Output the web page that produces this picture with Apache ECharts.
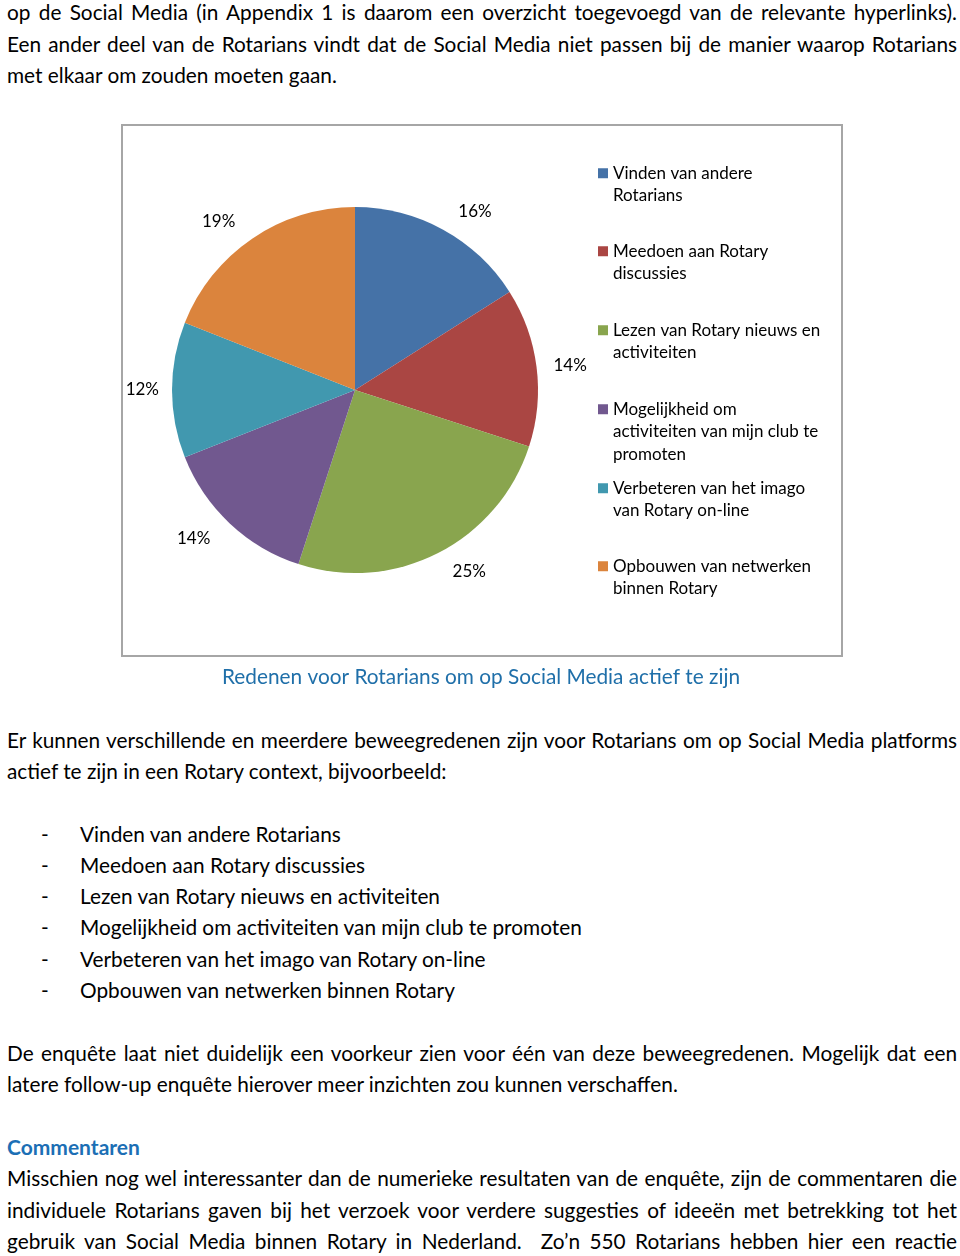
<!DOCTYPE html>
<html>
<head>
<meta charset="utf-8">
<script src="https://cdn.jsdelivr.net/npm/echarts@6/dist/echarts.min.js"></script>
<style>
  html, body { margin: 0; padding: 0; background: #fff; }
  body { width: 960px; height: 1256px; position: relative; overflow: hidden;
         font-family: Lato, "Noto Sans", sans-serif; color: #000; }
  .ln { position: absolute; left: 7px; width: 950px; font-size: 20.8px; line-height: 31px; white-space: normal; }
  .j { text-align: justify; text-align-last: justify; }
  .li { position: absolute; font-size: 20.8px; line-height: 31px; }
  .dash { left: 41px; }
  .lt { left: 80px; }
  .head { position: absolute; left: 7px; font-size: 21px; line-height: 31px; font-weight: bold; color: #1c6fb5; }
  #chart { position: absolute; left: 0; top: 110px; width: 960px; height: 600px; }
</style>
</head>
<body>
<div class="ln j" style="top:-4px">op de Social Media (in Appendix 1 is daarom een overzicht toegevoegd van de relevante hyperlinks).</div>
<div class="ln j" style="top:28px">Een ander deel van de Rotarians vindt dat de Social Media niet passen bij de manier waarop Rotarians</div>
<div class="ln" style="top:59px">met elkaar om zouden moeten gaan.</div>

<div id="chart"></div>

<div class="ln j" style="top:724px">Er kunnen verschillende en meerdere beweegredenen zijn voor Rotarians om op Social Media platforms</div>
<div class="ln" style="top:755px">actief te zijn in een Rotary context, bijvoorbeeld:</div>

<div class="li dash" style="top:818px">-</div><div class="li lt" style="top:818px">Vinden van andere Rotarians</div>
<div class="li dash" style="top:849px">-</div><div class="li lt" style="top:849px">Meedoen aan Rotary discussies</div>
<div class="li dash" style="top:880px">-</div><div class="li lt" style="top:880px">Lezen van Rotary nieuws en activiteiten</div>
<div class="li dash" style="top:911px">-</div><div class="li lt" style="top:911px">Mogelijkheid om activiteiten van mijn club te promoten</div>
<div class="li dash" style="top:943px">-</div><div class="li lt" style="top:943px">Verbeteren van het imago van Rotary on-line</div>
<div class="li dash" style="top:974px">-</div><div class="li lt" style="top:974px">Opbouwen van netwerken binnen Rotary</div>

<div class="ln j" style="top:1037px">De enquête laat niet duidelijk een voorkeur zien voor één van deze beweegredenen. Mogelijk dat een</div>
<div class="ln" style="top:1068px">latere follow-up enquête hierover meer inzichten zou kunnen verschaffen.</div>

<div class="head" style="top:1131px">Commentaren</div>
<div class="ln j" style="top:1162px">Misschien nog wel interessanter dan de numerieke resultaten van de enquête, zijn de commentaren die</div>
<div class="ln j" style="top:1194px">individuele Rotarians gaven bij het verzoek voor verdere suggesties of ideeën met betrekking tot het</div>
<div class="ln j" style="top:1225px">gebruik van Social Media binnen Rotary in Nederland.&nbsp; Zo’n 550 Rotarians hebben hier een reactie</div>

<script>
// ---- chart data ----
const categories = [
  'Vinden van andere Rotarians',
  'Meedoen aan Rotary discussies',
  'Lezen van Rotary nieuws en activiteiten',
  'Mogelijkheid om activiteiten van mijn club te promoten',
  'Verbeteren van het imago van Rotary on-line',
  'Opbouwen van netwerken binnen Rotary'
];
const legendLines = [
  ['Vinden van andere', 'Rotarians'],
  ['Meedoen aan Rotary', 'discussies'],
  ['Lezen van Rotary nieuws en', 'activiteiten'],
  ['Mogelijkheid om', 'activiteiten van mijn club te', 'promoten'],
  ['Verbeteren van het imago', 'van Rotary on-line'],
  ['Opbouwen van netwerken', 'binnen Rotary']
];
const percentages = [16, 14, 25, 14, 12, 19];
const colors = ['#4572A7', '#AA4643', '#89A54E', '#71588F', '#4198AF', '#DB843D'];
const captionText = 'Redenen voor Rotarians om op Social Media actief te zijn';

// ---- layout (styles only) ----
const LH = 22.5;
const legendFirstLineY = [66, 144, 223, 302, 381, 459];
const labelLineLengths = [21, 12, 21, 21, 8, 21];

const chart = echarts.init(document.getElementById('chart'), null, { renderer: 'canvas' });

const legends = categories.map((name, i) => {
  const lines = legendLines[i];
  return {
    show: true,
    orient: 'vertical',
    left: 598,
    top: legendFirstLineY[i] - LH / 2,
    padding: 0,
    itemWidth: 10,
    itemHeight: 10,
    itemGap: 0,
    icon: 'rect',
    selectedMode: false,
    data: [name],
    formatter: () => '{t|' + lines.join('\n') + '}',
    textStyle: {
      padding: [(lines.length - 1) * LH, 0, 0, 0],
      rich: {
        t: { fontFamily: 'Lato', fontSize: 17, lineHeight: LH, color: '#000' }
      }
    }
  };
});

chart.setOption({
  animation: false,
  color: colors,
  title: {
    text: captionText,
    left: 481,
    textAlign: 'center',
    top: 557,
    padding: 0,
    textStyle: { fontFamily: 'Lato', fontSize: 20.8, fontWeight: 'normal', color: '#1f6fa9' }
  },
  legend: legends,
  graphic: [{
    type: 'rect',
    shape: { x: 122, y: 15, width: 720, height: 531 },
    style: { fill: 'none', stroke: '#a6a6a6', lineWidth: 2 },
    silent: true,
    z: -1
  }],
  series: [{
    type: 'pie',
    center: [355, 280],
    radius: 183,
    startAngle: 90,
    clockwise: true,
    avoidLabelOverlap: false,
    itemStyle: { borderWidth: 0 },
    label: {
      show: true,
      position: 'outside',
      formatter: '{c}%',
      fontFamily: 'Lato',
      fontSize: 17,
      color: '#000',
      distanceToLabelLine: 5
    },
    labelLine: { show: false, length: 21, length2: 0 },
    emphasis: { disabled: true },
    data: categories.map((name, i) => ({
      name: name,
      value: percentages[i],
      labelLine: { show: false, length: labelLineLengths[i], length2: 0 }
    }))
  }]
});
</script>
</body>
</html>
